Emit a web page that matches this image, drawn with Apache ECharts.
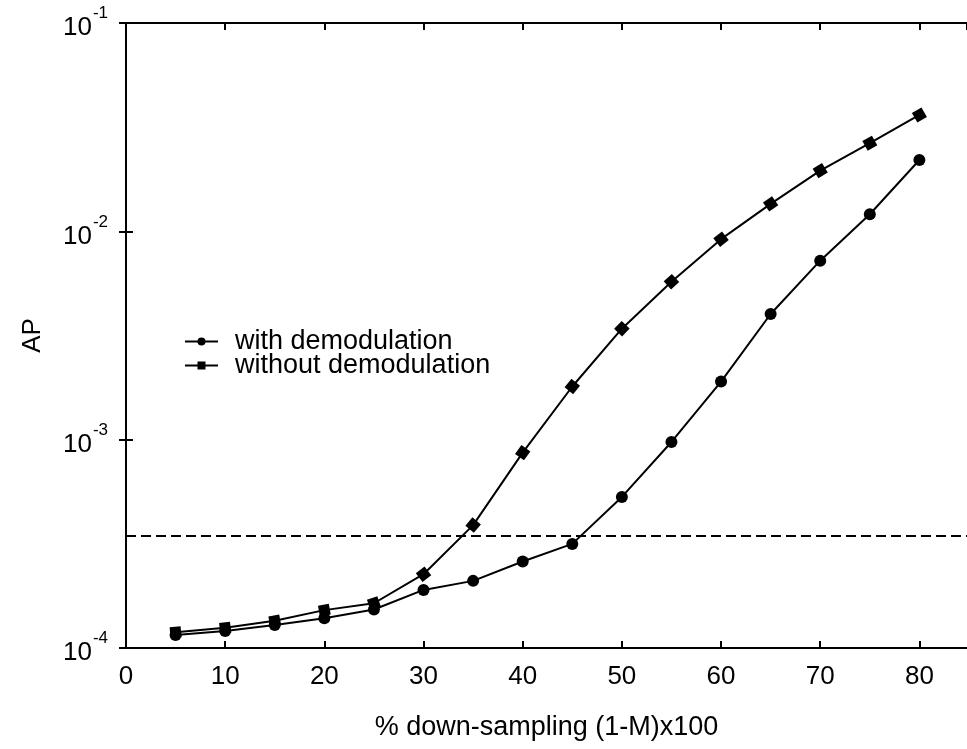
<!DOCTYPE html>
<html>
<head>
<meta charset="utf-8">
<script src="https://cdn.jsdelivr.net/npm/echarts@6/dist/echarts.min.js"></script>
<style>
html,body{margin:0;padding:0;background:#fff;}
#chart{width:967px;height:749px;}
</style>
</head>
<body>
<div id="chart"></div>
<script>
// ---- data ----
const downSampling = [5, 10, 15, 20, 25, 30, 35, 40, 45, 50, 55, 60, 65, 70, 75, 80];
const withDemodulation = [1.155e-4, 1.207e-4, 1.29e-4, 1.39e-4, 1.53e-4, 1.90e-4, 2.10e-4, 2.60e-4, 3.16e-4, 5.31e-4, 9.75e-4, 1.90e-3, 4.01e-3, 7.23e-3, 1.208e-2, 2.20e-2];
const withoutDemodulation = [1.19e-4, 1.25e-4, 1.35e-4, 1.52e-4, 1.64e-4, 2.26e-4, 3.89e-4, 8.66e-4, 1.80e-3, 3.41e-3, 5.73e-3, 9.17e-3, 1.354e-2, 1.957e-2, 2.65e-2, 3.62e-2];
const thresholdAP = 3.45e-4;
const xRange = [0, 84.8];
const seriesNames = ['with demodulation', 'without demodulation'];
const xTitle = '% down-sampling (1-M)x100';
const yTitle = 'AP';

const FONT = 'Arial, "Liberation Sans", Helvetica, sans-serif';
const chart = echarts.init(document.getElementById('chart'), null, {renderer: 'canvas'});

const axisLine = {show: true, lineStyle: {color: '#000', width: 2}};
const axisTick = {show: true, inside: true, length: 7, lineStyle: {color: '#000', width: 2}};

function pairs(ys, extra) {
  return downSampling.map((x, i) => Object.assign({value: [x, ys[i]]}, extra ? extra[i] : {}));
}

function buildOption(rot) {
  return {
    animation: false,
    backgroundColor: '#fff',
    textStyle: {fontFamily: FONT},
    grid: {left: 126, top: 23, width: 845, height: 625},
    legend: {
      left: 179, top: 323, orient: 'vertical', itemWidth: 33, itemHeight: 10, itemGap: -3,
      textStyle: {fontSize: 27, color: '#000', fontFamily: FONT, lineHeight: 22, padding: [0, 0, 0, 12]},
      data: seriesNames
    },
    xAxis: [{
      type: 'value', min: xRange[0], max: xRange[1], interval: 10, position: 'bottom',
      axisLine: axisLine, axisTick: axisTick, splitLine: {show: false},
      axisLabel: {color: '#000', fontSize: 26, margin: 16, fontFamily: FONT,
        showMaxLabel: false},
      name: xTitle, nameLocation: 'middle', nameGap: 66,
      nameTextStyle: {fontSize: 27, color: '#000', fontFamily: FONT}
    }, {
      type: 'value', min: xRange[0], max: xRange[1], interval: 10, position: 'top',
      axisLine: axisLine, axisTick: axisTick, splitLine: {show: false},
      axisLabel: {show: false}
    }],
    yAxis: [{
      type: 'log', logBase: 10, min: 1e-4, max: 1e-1, position: 'left',
      axisLine: axisLine, axisTick: axisTick, splitLine: {show: false},
      minorTick: {show: false},
      axisLabel: {
        margin: 18, color: '#000',
        formatter: v => '{b|10}{s|' + Math.round(Math.log10(v)) + '}',
        rich: {
          b: {fontSize: 26, fontFamily: FONT, color: '#000', padding: [10, 0, 0, 0]},
          s: {fontSize: 17, fontFamily: FONT, color: '#000', verticalAlign: 'top', padding: [0, 0, 0, 1]}
        }
      },
      name: yTitle, nameLocation: 'middle', nameGap: 80, nameRotate: 90,
      nameTextStyle: {fontSize: 26, color: '#000', fontFamily: FONT}
    }, {
      type: 'log', logBase: 10, min: 1e-4, max: 1e-1, position: 'right',
      axisLine: axisLine, axisTick: axisTick, splitLine: {show: false},
      axisLabel: {show: false}
    }],
    series: [{
      name: seriesNames[0], type: 'line', xAxisIndex: 0, yAxisIndex: 0,
      data: pairs(withDemodulation),
      symbol: 'circle', symbolSize: 12, showAllSymbol: true,
      lineStyle: {color: '#000', width: 2}, itemStyle: {color: '#000'},
      z: 3
    }, {
      name: seriesNames[1], type: 'line', xAxisIndex: 0, yAxisIndex: 0,
      data: pairs(withoutDemodulation, rot),
      symbol: 'rect', symbolSize: 11, showAllSymbol: true,
      lineStyle: {color: '#000', width: 2}, itemStyle: {color: '#000'},
      z: 4
    }, {
      name: 'threshold', type: 'line', xAxisIndex: 0, yAxisIndex: 0,
      data: [[xRange[0], thresholdAP], [xRange[1], thresholdAP]],
      symbol: 'none', silent: true,
      lineStyle: {color: '#000', width: 2, type: [10, 5]},
      z: 2
    }]
  };
}

chart.setOption(buildOption(null));

// rotate square markers along the line direction (as in the reference)
const px = downSampling.map((x, i) => chart.convertToPixel({gridIndex: 0}, [x, withoutDemodulation[i]]));
const rot = px.map((p, i) => {
  const angs = [];
  if (i > 0) angs.push(Math.atan2(-(p[1] - px[i - 1][1]), p[0] - px[i - 1][0]));
  if (i < px.length - 1) angs.push(Math.atan2(-(px[i + 1][1] - p[1]), px[i + 1][0] - p[0]));
  const a = angs.reduce((s, v) => s + v, 0) / angs.length;
  return {symbolRotate: a * 180 / Math.PI};
});
chart.setOption(buildOption(rot), true);
</script>
</body>
</html>
